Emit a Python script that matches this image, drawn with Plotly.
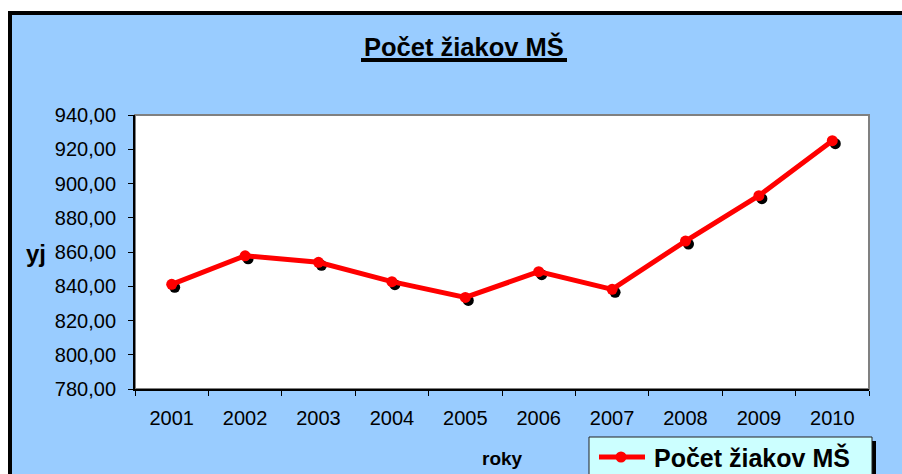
import plotly.graph_objects as go

# ---- data ----
years = ["2001", "2002", "2003", "2004", "2005", "2006", "2007", "2008", "2009", "2010"]
pocet = [841.1, 857.8, 854.0, 842.7, 833.5, 848.5, 838.2, 866.4, 892.9, 925.0]
series_name = "Počet žiakov MŠ"
title_text = "Počet žiakov MŠ"
y_title = "yj"
x_title = "roky"
y_min, y_max, y_step = 780, 940, 20

W, H = 902, 474
FONT = "Liberation Sans, Arial, sans-serif"
RED = "#FF0000"


def fx(px):
    return px / W


def fy(py):
    return 1 - py / H


# plot area in pixels
PL, PR, PT, PB = 135, 869, 115, 389
SH = 3  # marker shadow offset

fig = go.Figure()

# shadow markers (hidden axes, shifted subplot)
fig.add_trace(go.Scatter(
    x=years, y=pocet, mode="markers", xaxis="x", yaxis="y",
    marker=dict(color="black", size=11), showlegend=False, hoverinfo="skip"))

# main series
fig.add_trace(go.Scatter(
    x=years, y=pocet, mode="lines+markers", xaxis="x2", yaxis="y2",
    name=series_name, showlegend=False,
    line=dict(color=RED, width=5),
    marker=dict(color=RED, size=11)))

hidden = dict(visible=False, showgrid=False, zeroline=False, fixedrange=True,
              automargin=False)

LX0, LX1, LY0 = 589, 872, 437
LEG_Y = 457

fig.update_layout(
    template="none",
    width=W, height=H, autosize=False,
    margin=dict(l=0, r=0, t=0, b=0, pad=0, autoexpand=False),
    paper_bgcolor="white",
    plot_bgcolor="rgba(0,0,0,0)",
    separators=", ",
    font=dict(family=FONT, color="black"),
    showlegend=False,
    xaxis=dict(hidden, type="category", range=[-0.5, 9.5],
               domain=[fx(PL + SH), fx(PR + SH)], anchor="y"),
    yaxis=dict(hidden, range=[y_min, y_max],
               domain=[fy(PB + SH), fy(PT + SH)], anchor="x"),
    xaxis2=dict(type="category", range=[-0.5, 9.5],
                domain=[fx(PL), fx(PR)], anchor="y2", automargin=False,
                showline=True, linecolor="black", linewidth=2,
                showgrid=False, zeroline=False,
                ticks="outside", tickson="boundaries", ticklen=5,
                tickcolor="black", tickwidth=1,
                tickfont=dict(size=20, family=FONT, color="black"),
                ticklabelstandoff=10),
    yaxis2=dict(range=[y_min, y_max], dtick=y_step, tick0=y_min,
                domain=[fy(PB), fy(PT)], anchor="x2", automargin=False,
                showline=True, linecolor="black", linewidth=2,
                showgrid=False, zeroline=False,
                ticks="outside", ticklen=5, tickcolor="black", tickwidth=1,
                tickformat=".2f",
                tickfont=dict(size=20, family=FONT, color="black"),
                ticklabelstandoff=8),
    shapes=[
        # chart area (blue with black border)
        dict(type="rect", xref="paper", yref="paper", layer="below",
             x0=fx(10), x1=fx(W + 30), y0=fy(H + 30), y1=fy(13),
             fillcolor="#99CCFF", line=dict(color="black", width=4)),
        # plot area
        dict(type="rect", xref="paper", yref="paper", layer="below",
             x0=fx(PL), x1=fx(PR), y0=fy(PB), y1=fy(PT),
             fillcolor="white", line=dict(color="#808080", width=2)),
        # title underline
        dict(type="line", xref="paper", yref="paper", layer="above",
             x0=fx(361), x1=fx(567), y0=fy(60), y1=fy(60),
             line=dict(color="black", width=4)),
        # legend shadow
        dict(type="rect", xref="paper", yref="paper", layer="above",
             x0=fx(LX0 + 4), x1=fx(LX1 + 4), y0=fy(H + 20), y1=fy(LY0 + 4),
             fillcolor="black", line=dict(width=0)),
        # legend box
        dict(type="rect", xref="paper", yref="paper", layer="above",
             x0=fx(LX0), x1=fx(LX1), y0=fy(H + 20), y1=fy(LY0),
             fillcolor="#CCFFFF", line=dict(color="#222222", width=1)),
        # legend line sample
        dict(type="line", xref="paper", yref="paper", layer="above",
             x0=fx(599), x1=fx(645), y0=fy(LEG_Y), y1=fy(LEG_Y),
             line=dict(color=RED, width=5)),
        # legend marker sample
        dict(type="circle", xref="paper", yref="paper", layer="above",
             x0=fx(621 - 5.5), x1=fx(621 + 5.5),
             y0=fy(LEG_Y + 5.5), y1=fy(LEG_Y - 5.5),
             fillcolor=RED, line=dict(width=0)),
    ],
    annotations=[
        dict(text="<b>" + title_text + "</b>", xref="paper", yref="paper",
             x=fx(464), y=fy(46), xanchor="center", yanchor="middle",
             showarrow=False, font=dict(size=25.5, family=FONT, color="black")),
        dict(text="<b>" + y_title + "</b>", xref="paper", yref="paper",
             x=fx(36), y=fy(253), xanchor="center", yanchor="middle",
             showarrow=False, font=dict(size=24, family=FONT, color="black")),
        dict(text="<b>" + x_title + "</b>", xref="paper", yref="paper",
             x=fx(502), y=fy(458), xanchor="center", yanchor="middle",
             showarrow=False, font=dict(size=19, family=FONT, color="black")),
        dict(text="<b>" + series_name + "</b>", xref="paper", yref="paper",
             x=fx(652), y=fy(LEG_Y), xanchor="left", yanchor="middle",
             showarrow=False, font=dict(size=25, family=FONT, color="black")),
    ],
)

fig.write_html(
    "out.html",
    config={"displayModeBar": False, "staticPlot": True},
    post_script="document.body.style.margin='0px';"
                "document.body.style.overflow='hidden';"
                "document.documentElement.style.overflow='hidden';",
)
